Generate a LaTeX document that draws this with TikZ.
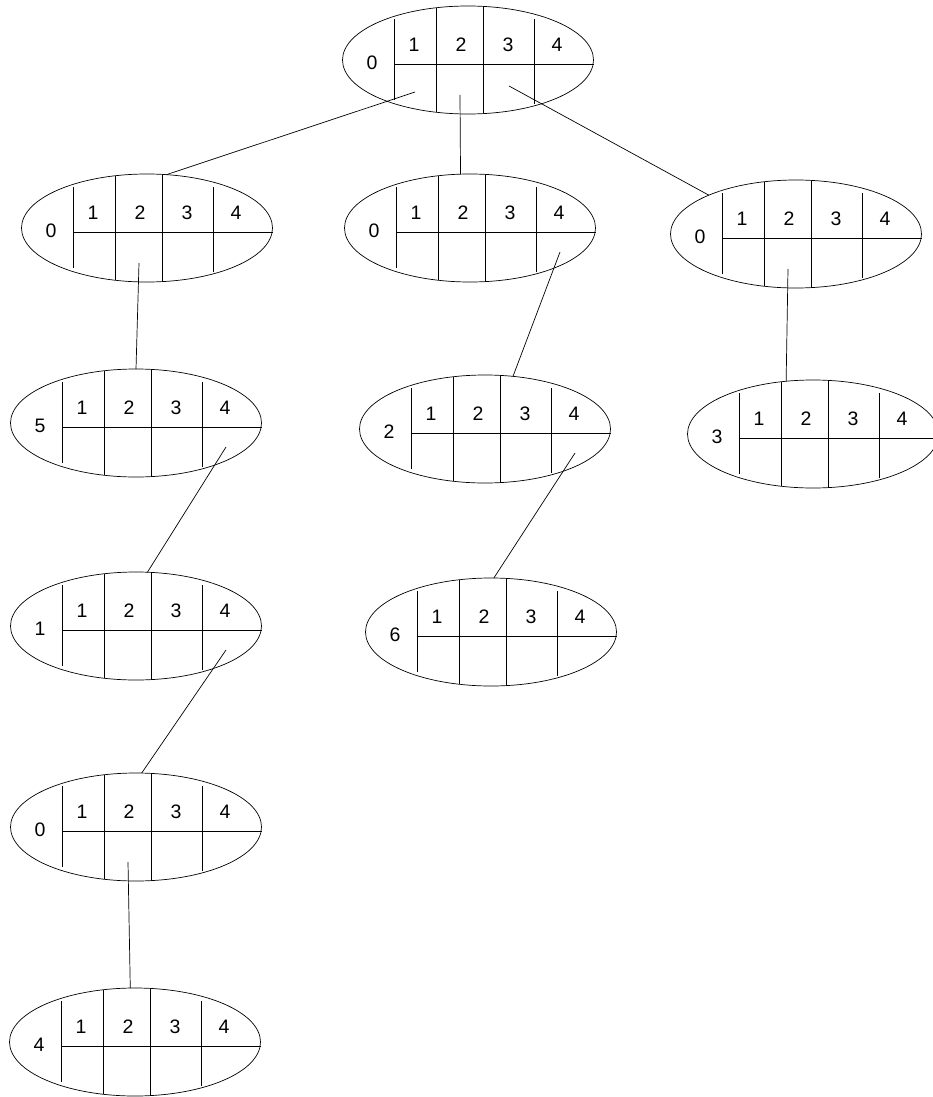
\documentclass[tikz,border=0pt]{standalone}
\usepackage{fontspec}
\setmainfont{Liberation Sans}
\usetikzlibrary{shapes.geometric}
\begin{document}
\begin{tikzpicture}[x=1pt, y=-1pt, line width=0.7pt,
  every node/.style={font=\fontsize{19.5}{22}\selectfont},
  trie/.style={ellipse, draw, minimum width=251pt, minimum height=108pt,
    inner sep=0pt, outer sep=0pt}]
  \useasboundingbox (0,0) rectangle (933,1097);
  % Trie nodes: name/x/y/count
  \foreach \name/\x/\y/\cnt in {root/468/60/0, k1/147/228/0, k2/470/228/0,
      k3/796/234/0, k12/136/423/5, k24/485/429/2, k32/813/434/3,
      k124/136/626/1, k244/491/632/6, k1244/136/827/0, k12442/135/1042/4} {
    \node[trie] (\name) at (\x,\y) {};
    \begin{scope}[shift={(\x,\y)}]
      \node (\name-lab) at (-96,3) {\cnt};
      % cell walls
      \draw (-74,-41) -- (-74,40);
      \draw (-32,-52) -- (-32,52);
      \draw (15,-53.5) -- (15,53.5);
      \draw (66,-41) -- (66,44);
      \draw (-74,4) -- (125.5,4);
      \foreach \k/\cx in {1/-54, 2/-7, 3/40, 4/89}
        \node (\name-c\k) at (\cx,-15) {\k};
      % pointer origins
      \foreach \k/\px/\py in {1/-53/32, 2/-8/35, 3/41/26, 4/90/24}
        \coordinate (\name-p\k) at (\px,\py);
    \end{scope}
  }
  % Pointers
  \draw (root-p1) -- (k1.70);
  \draw (root-p2) -- (k2.100);
  \draw (root-p3) -- (k3.156);
  \draw (k1-p2) -- (k12.north);
  \draw (k2-p4) -- (k24.62);
  \draw (k3-p2) -- (k32.117);
  \draw (k12-p4) -- (k124.78);
  \draw (k24-p4) -- (k244.87);
  \draw (k124-p4) -- (k1244.84);
  \draw (k1244-p2) -- (k12442.95);
\end{tikzpicture}
\end{document}
